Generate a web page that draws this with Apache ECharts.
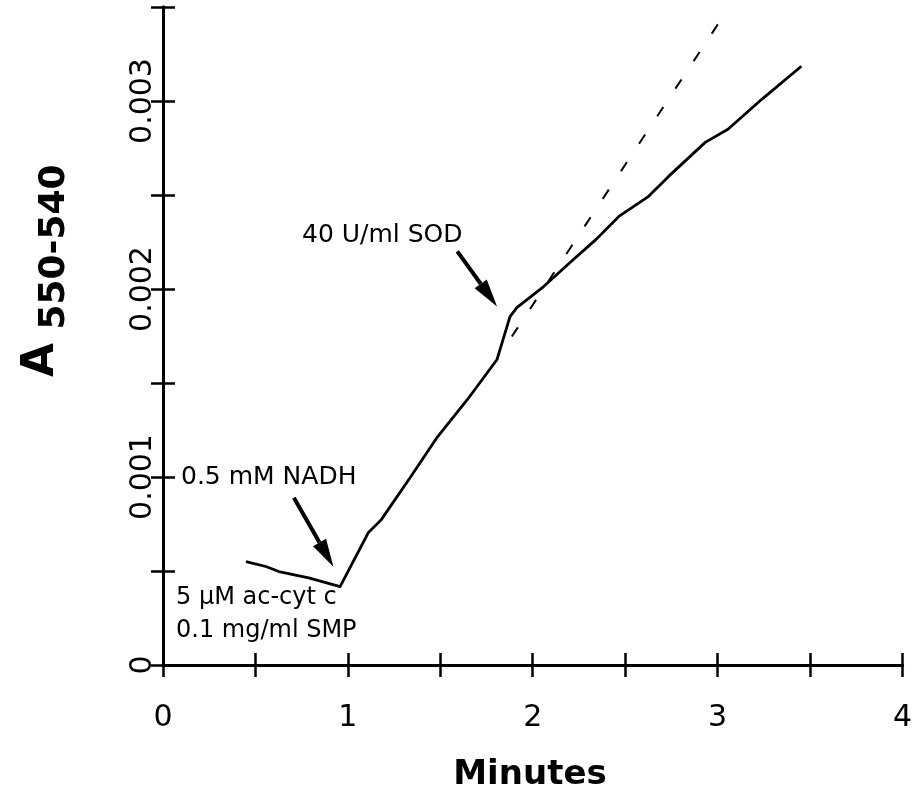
<!DOCTYPE html>
<html>
<head>
<meta charset="utf-8">
<script src="https://cdn.jsdelivr.net/npm/echarts@6/dist/echarts.min.js"></script>
<style>
  html, body { margin: 0; background: #fff; }
  #chart { width: 915px; height: 798px; }
</style>
</head>
<body>
<div id="chart"></div>
<script>
// absorbance trace (minutes, A550-540)
const traceX = [0.449, 0.556, 0.627, 0.788, 0.958, 1.110, 1.180, 1.340, 1.485, 1.646, 1.807, 1.823, 1.877, 1.914, 2.059, 2.220, 2.343, 2.466, 2.627, 2.735, 2.933, 3.056, 3.239, 3.453];
const traceY = [0.000550, 0.000524, 0.000497, 0.000463, 0.000417, 0.000703, 0.000772, 0.001001, 0.001214, 0.001411, 0.001625, 0.001678, 0.001853, 0.001901, 0.002013, 0.002157, 0.002264, 0.002386, 0.002493, 0.002599, 0.002780, 0.002850, 0.003009, 0.003185];

// dashed extrapolation of the initial rate
const extrapX = [1.887, 3.013];
const extrapY = [0.001747, 0.003425];

// annotation arrows: tail -> tip
const arrowFrom = [[0.708, 0.000889], [1.592, 0.002200]];
const arrowTo = [[0.922, 0.000522], [1.807, 0.001907]];

const xTickLabels = ['0', '1', '2', '3', '4'];
const yTickLabels = ['0', '0.001', '0.002', '0.003'];

const FONT = '"DejaVu Sans", sans-serif';

const chart = echarts.init(document.getElementById('chart'));

const xLabel = (v) => {
  const hit = xTickLabels.find((t) => Math.abs(Number(t) - v) < 1e-9);
  return hit === undefined ? '' : hit;
};
const yLabel = (v) => {
  const hit = yTickLabels.find((t) => Math.abs(Number(t) - v) < 1e-9);
  return hit === undefined ? '' : hit;
};

const baseX = {
  type: 'value',
  min: 0,
  max: 4,
  interval: 0.5,
  position: 'bottom',
  splitLine: { show: false },
  axisLine: { show: true, lineStyle: { color: '#000', width: 3 } },
};
const baseY = {
  type: 'value',
  min: 0,
  max: 0.0035,
  interval: 0.0005,
  position: 'left',
  splitLine: { show: false },
  axisLine: { show: true, lineStyle: { color: '#000', width: 3 } },
};

const arrowData = arrowFrom.map((p, i) => [p[0], p[1], arrowTo[i][0], arrowTo[i][1]]);

chart.setOption({
  animation: false,
  grid: { left: 163, right: 6, top: 7, bottom: 133 },
  xAxis: [
    {
      ...baseX,
      axisTick: { show: true, inside: false, length: 12, lineStyle: { color: '#000', width: 2.5 } },
      axisLabel: { color: '#000', fontFamily: FONT, fontSize: 30, margin: 38, formatter: xLabel },
    },
    {
      ...baseX,
      axisTick: { show: true, inside: true, length: 12, lineStyle: { color: '#000', width: 2.5 } },
      axisLabel: { show: false },
    },
  ],
  yAxis: [
    {
      ...baseY,
      axisTick: { show: true, inside: false, length: 12, lineStyle: { color: '#000', width: 2.5 } },
      axisLabel: { color: '#000', fontFamily: FONT, fontSize: 30, margin: 5, rotate: 90, formatter: yLabel },
    },
    {
      ...baseY,
      axisTick: { show: true, inside: true, length: 12, lineStyle: { color: '#000', width: 2.5 } },
      axisLabel: { show: false },
    },
  ],
  series: [
    {
      type: 'line',
      data: traceX.map((x, i) => [x, traceY[i]]),
      showSymbol: false,
      lineStyle: { color: '#000', width: 2.8, join: 'round' },
    },
    {
      type: 'line',
      data: extrapX.map((x, i) => [x, extrapY[i]]),
      showSymbol: false,
      lineStyle: { color: '#000', width: 2, type: [11, 22] },
    },
    {
      type: 'custom',
      data: arrowData,
      renderItem: (params, api) => {
        const p0 = api.coord([api.value(0), api.value(1)]);
        const p1 = api.coord([api.value(2), api.value(3)]);
        const dx = p1[0] - p0[0];
        const dy = p1[1] - p0[1];
        const len = Math.hypot(dx, dy);
        const ux = dx / len, uy = dy / len;
        const headLen = 28, headW = 7.5;
        const b = [p1[0] - ux * headLen, p1[1] - uy * headLen];
        return {
          type: 'group',
          children: [
            { type: 'line', shape: { x1: p0[0], y1: p0[1], x2: b[0], y2: b[1] }, style: { stroke: '#000', lineWidth: 4 } },
            {
              type: 'polygon',
              shape: { points: [p1, [b[0] - uy * headW, b[1] + ux * headW], [b[0] + uy * headW, b[1] - ux * headW]] },
              style: { fill: '#000' },
            },
          ],
        };
      },
    },
  ],
  graphic: [
    { type: 'text', x: 181, y: 477, style: { text: '0.5 mM NADH', font: '25px ' + FONT, fill: '#000', verticalAlign: 'middle' } },
    { type: 'text', x: 302, y: 235, style: { text: '40 U/ml SOD', font: '25px ' + FONT, fill: '#000', verticalAlign: 'middle' } },
    { type: 'text', x: 176, y: 598, style: { text: '5 µM ac-cyt c', font: '24px ' + FONT, fill: '#000', verticalAlign: 'middle' } },
    { type: 'text', x: 176, y: 631, style: { text: '0.1 mg/ml SMP', font: '24px ' + FONT, fill: '#000', verticalAlign: 'middle' } },
    { type: 'text', x: 530, y: 775, style: { text: 'Minutes', font: 'bold 34px ' + FONT, fill: '#000', align: 'center', verticalAlign: 'middle' } },
    { type: 'text', x: 42, y: 360, rotation: Math.PI / 2, style: { text: 'A', font: 'bold 44px ' + FONT, fill: '#000', align: 'center', verticalAlign: 'middle' } },
    { type: 'text', x: 55, y: 247, rotation: Math.PI / 2, style: { text: '550-540', font: 'bold 36px ' + FONT, fill: '#000', align: 'center', verticalAlign: 'middle' } },
  ],
});
</script>
</body>
</html>
